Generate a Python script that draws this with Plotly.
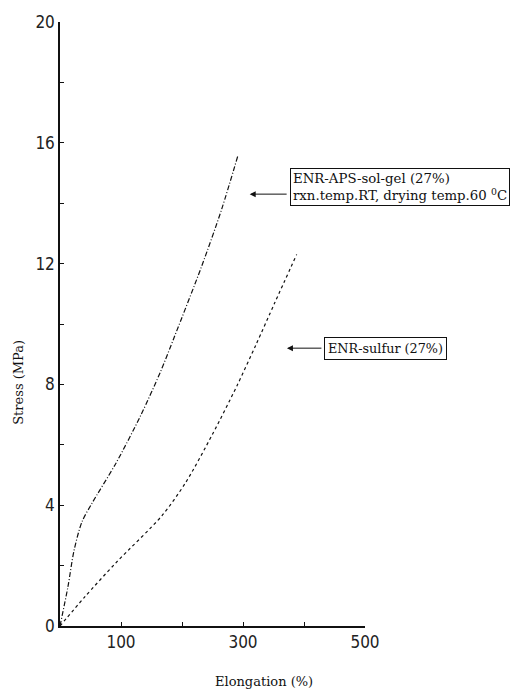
import plotly.graph_objects as go

# Data
aps_x = [0, 13, 23, 36, 52, 92, 132, 165, 188, 232, 265, 292]
aps_y = [0, 1.3, 2.5, 3.45, 4.05, 5.4, 6.96, 8.43, 9.6, 11.9, 13.8, 15.6]
sul_x = [0, 40, 92, 167, 206, 250, 290, 321, 352, 388]
sul_y = [0, 0.95, 2.1, 3.65, 4.75, 6.35, 7.95, 9.3, 10.7, 12.3]

x_ticks = [100, 200, 300, 400, 500]
x_ticktext = ["100", "", "300", "", "500"]
y_ticks = [0, 2, 4, 6, 8, 10, 12, 14, 16, 18, 20]
y_ticktext = ["0", "", "4", "", "8", "", "12", "", "16", "", "20"]

label_aps = "ENR-APS-sol-gel (27%)<br>rxn.temp.RT, drying temp.60 <sup>0</sup>C"
label_sul = "ENR-sulfur (27%)"
x_title = "Elongation (%)"
y_title = "Stress (MPa)"

tickfont = dict(family="Liberation Sans Narrow, DejaVu Sans Condensed, sans-serif", size=17, color="#222")

fig = go.Figure()
fig.add_trace(go.Scatter(x=aps_x, y=aps_y, mode="lines",
                         line=dict(color="#111", width=1.2, dash="5px,2px,1px,2px",
                                   shape="spline", smoothing=0.8),
                         showlegend=False))
fig.add_trace(go.Scatter(x=sul_x, y=sul_y, mode="lines",
                         line=dict(color="#111", width=1.2, dash="3px,3px",
                                   shape="spline", smoothing=0.8),
                         showlegend=False))

fig.update_layout(
    width=512, height=692,
    margin=dict(l=60, r=147, t=20, b=66),
    paper_bgcolor="white", plot_bgcolor="white",
    xaxis=dict(range=[0, 500], tickvals=x_ticks, ticktext=x_ticktext,
               ticks="inside", ticklen=4, tickwidth=1, tickcolor="#111",
               showline=True, linecolor="#111", linewidth=1.5,
               showgrid=False, zeroline=False, tickfont=tickfont),
    yaxis=dict(range=[0, 20], tickvals=y_ticks, ticktext=y_ticktext,
               ticks="inside", ticklen=4, tickwidth=1, tickcolor="#111",
               showline=True, linecolor="#111", linewidth=1.5,
               showgrid=False, zeroline=False, tickfont=tickfont),
)

# axis titles
fig.add_annotation(text=x_title, xref="paper", yref="paper",
                   x=(264 - 60) / 305, y=-(682 - 626) / 606, showarrow=False,
                   font=dict(family="DejaVu Serif, serif", size=13, color="#111"),
                   xanchor="center", yanchor="middle")
fig.add_annotation(text=y_title, xref="paper", yref="paper",
                   x=-(60 - 19) / 305, y=(626 - 382) / 606, showarrow=False, textangle=-90,
                   font=dict(family="DejaVu Serif, serif", size=13, color="#111"),
                   xanchor="center", yanchor="middle")

# arrows
fig.add_annotation(x=311, y=14.3, ax=374, ay=14.3, axref="x", ayref="y", xref="x", yref="y",
                   text="", showarrow=True, arrowhead=2, arrowsize=1.2, arrowwidth=1, arrowcolor="#111")
fig.add_annotation(x=372, y=9.2, ax=431, ay=9.2, axref="x", ayref="y", xref="x", yref="y",
                   text="", showarrow=True, arrowhead=2, arrowsize=1.2, arrowwidth=1, arrowcolor="#111")

# labelled boxes
fig.add_annotation(x=377, y=14.55, xref="x", yref="y", text=label_aps, showarrow=False,
                   xanchor="left", yanchor="middle", align="left",
                   bordercolor="#111", borderwidth=1, borderpad=2,
                   font=dict(family="DejaVu Serif, serif", size=13.3, color="#111"))
fig.add_annotation(x=433, y=9.2, xref="x", yref="y", text=label_sul, showarrow=False,
                   xanchor="left", yanchor="middle", align="left",
                   bordercolor="#111", borderwidth=1, borderpad=3,
                   font=dict(family="DejaVu Serif, serif", size=12.8, color="#111"))

fig.write_html("out.html")
